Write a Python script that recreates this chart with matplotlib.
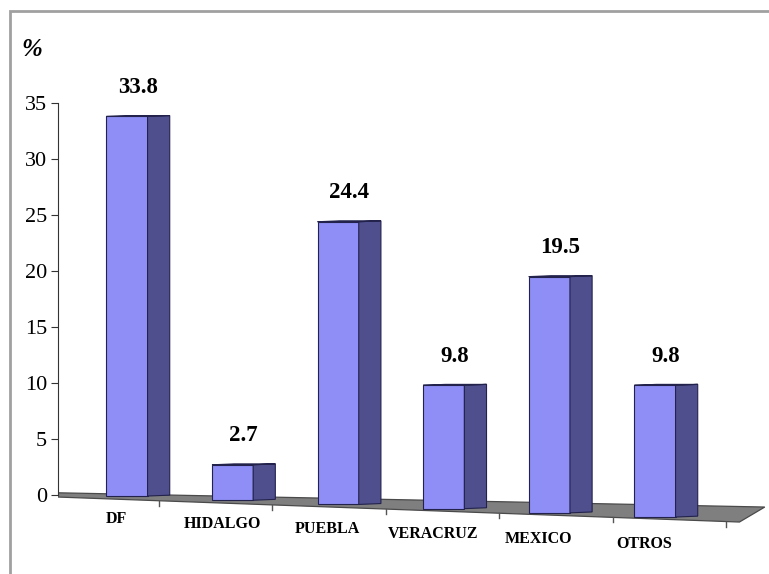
import matplotlib.pyplot as plt
from matplotlib.patches import Polygon, Rectangle
import numpy as np

# Distribución por entidad de procedencia (%)
categorias = ['DF', 'HIDALGO', 'PUEBLA', 'VERACRUZ', 'MEXICO', 'OTROS']
porcentajes = [33.8, 2.7, 24.4, 9.8, 19.5, 9.8]
yticks = [0, 5, 10, 15, 20, 25, 30, 35]

FRONT = '#8e8ef6'
SIDE = '#4f4f8e'
TOP = '#2e2e62'
EDGE = '#22224c'
FLOOR = '#7f7f7f'

W, H = 769, 574
fig = plt.figure(figsize=(W / 100, H / 100), dpi=100)
fig.patch.set_facecolor('white')

# marco gris exterior
fig.patches.append(Rectangle((10 / W, -0.1), 1.2, (H - 11) / H + 0.1,
                             transform=fig.transFigure, fill=False,
                             edgecolor='#a0a0a0', lw=2))

ax = fig.add_axes([58 / W, (H - 560) / H, 711 / W, 500 / H])
ax.set_xlim(-0.653, 6.08)
ax.set_ylim(-5.8, 38.84)

x = np.arange(len(categorias))
vals = np.array(porcentajes)

# piso inclinado en perspectiva
x0, x1, x2 = -0.653, 6.04, 5.80
back = lambda t: 0.2 - 0.19 * (t - x0)
front = lambda t: -0.18 - 0.3456 * (t - x0)
piso = Polygon([(x0, back(x0)), (x1, back(x1)), (x2, front(x2)), (x0, front(x0))],
               closed=True, facecolor=FLOOR, edgecolor='#4a4a4a', lw=0.9, zorder=1)
ax.add_patch(piso)

# marcas de división sobre el piso
for i in x:
    tx = i + 0.3 + 0.075 * i
    ax.plot([tx, tx], [front(tx), front(tx) - 0.45], color='#555555', lw=1, zorder=1)

# barras 3D: cara frontal, lateral y superior
bw, dx, dy = 0.39, 0.21, 0.08
base = -0.09 - 0.375 * x
ax.bar(x, vals - base, bottom=base, width=bw, color=FRONT, edgecolor=EDGE,
       lw=0.8, zorder=3)
for xi, v, b in zip(x, vals, base):
    r = xi + bw / 2
    lado = Polygon([(r, b), (r + dx, b + dy), (r + dx, v + dy), (r, v)],
                   closed=True, facecolor=SIDE, edgecolor=EDGE, lw=0.8, zorder=3)
    tapa = Polygon([(r - bw, v), (r, v), (r + dx, v + dy), (r - bw + dx, v + dy)],
                   closed=True, facecolor=TOP, edgecolor=EDGE, lw=0.8, zorder=4)
    ax.add_patch(lado)
    ax.add_patch(tapa)
    ax.text(xi + dx / 2, v + 2.6, f'{v:.1f}', ha='center', va='center',
            fontsize=16.5, fontweight='bold', family='Liberation Serif', zorder=5)

# etiquetas de categoría siguiendo la inclinación del piso
for i, nombre in enumerate(categorias):
    ax.text(i - 0.1, -2.14 - 0.45 * i, nombre, ha='center', va='center',
            fontsize=11.5, fontweight='bold', family='Liberation Serif')

# eje vertical
for s in ['top', 'right', 'bottom']:
    ax.spines[s].set_visible(False)
ax.spines['left'].set_bounds(0, 35)
ax.spines['left'].set_color('#333333')
ax.set_xticks([])
ax.set_yticks(yticks)
ax.set_yticklabels([str(t) for t in yticks], family='Liberation Serif', fontsize=16)
ax.tick_params(axis='y', direction='out', length=5, color='#333333', pad=3)
ax.patch.set_alpha(0)

fig.text(21 / W, 1 - 49 / H, '%', fontsize=18, fontweight='bold', style='italic',
         family='Liberation Serif', va='center', ha='left')

fig.savefig('out.png', dpi=100, facecolor='white')
